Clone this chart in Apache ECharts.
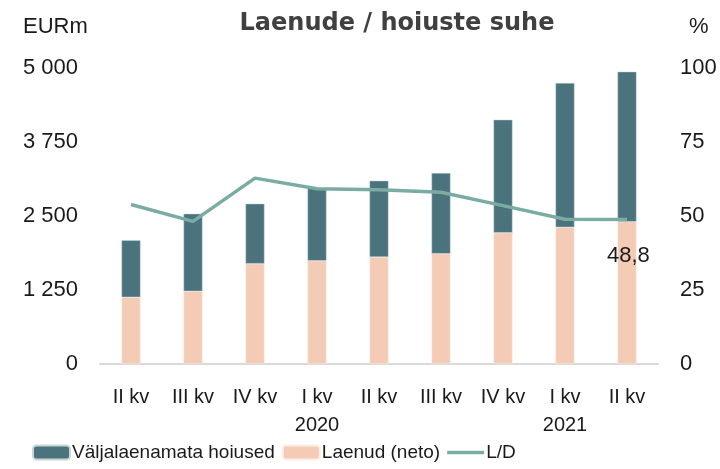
<!DOCTYPE html>
<html>
<head>
<meta charset="utf-8">
<script src="https://cdn.jsdelivr.net/npm/echarts@6/dist/echarts.min.js"></script>
<style>
    html, body { margin: 0; padding: 0; background: #fff; }
    #chart { width: 720px; height: 469px; }
</style>
</head>
<body>
<div id="chart"></div>
<script>
// kvartalid
const categories = ['II kv', 'III kv', 'IV kv', 'I kv\n2020', 'II kv', 'III kv', 'IV kv', 'I kv\n2021', 'II kv'];
// EURm
const loans = [1127, 1228, 1694, 1745, 1807, 1863, 2218, 2309, 2404];
const unlentDeposits = [963, 1311, 1014, 1223, 1289, 1363, 1909, 2438, 2534];
// %
const ldRatio = [53.9, 48.2, 62.8, 59.2, 58.9, 58.0, 53.5, 48.9, 48.8];
const leftTicks = [0, 1250, 2500, 3750, 5000];
const rightTicks = [0, 25, 50, 75, 100];

const colors = {
    dark: '#4a737e',
    peach: '#f4cbb5',
    line: '#7aaca3',
    text: '#1a1a1a',
    axis: '#d9d9d9',
};

const font = '"Liberation Sans", Arial, sans-serif';

const chart = echarts.init(document.getElementById('chart'));

const option = {
    animation: false,
    textStyle: { fontFamily: font },
    title: [
        {
            text: 'Laenude / hoiuste suhe',
            left: 392,
            textAlign: 'center',
            top: 7,
            textStyle: { fontSize: 24, fontWeight: 'bold', color: '#404040', fontFamily: '"DejaVu Sans", sans-serif' }
        },
        {
            text: 'EURm',
            left: 18,
            top: 11,
            textStyle: { fontSize: 22, fontWeight: 'normal', color: colors.text, fontFamily: font }
        },
        {
            text: '%',
            left: 684,
            top: 11,
            textStyle: { fontSize: 22, fontWeight: 'normal', color: colors.text, fontFamily: font }
        }
    ],
    legend: {
        data: [
            'Väljalaenamata hoiused',
            'Laenud (neto)',
            { name: 'L/D', icon: 'path://M0,0L37,0L37,3.5L0,3.5Z' }
        ],
        top: 443,
        left: 32,
        padding: 0,
        itemWidth: 37,
        itemHeight: 14,
        itemGap: 7,
        textStyle: { fontSize: 19, color: colors.text, fontFamily: font, padding: [0, 0, 0, -3] }
    },
    grid: {
        left: 100,
        right: 62,
        top: 68,
        bottom: 105,
    },
    xAxis: {
        type: 'category',
        data: categories,
        axisLine: { lineStyle: { color: colors.axis, width: 2 } },
        axisTick: { show: false },
        axisLabel: {
            color: colors.text,
            fontSize: 20,
            fontFamily: font,
            lineHeight: 28,
            margin: 19,
            interval: 0,
        }
    },
    yAxis: [
        {
            type: 'value',
            min: 0,
            max: 5000,
            interval: 1250,
            splitLine: { show: false },
            axisLine: { show: false },
            axisTick: { show: false },
            axisLabel: {
                color: colors.text,
                fontSize: 22,
                margin: 22,
                formatter: v => leftTicks.includes(v) ? String(v).replace(/\B(?=(\d{3})+(?!\d))/g, ' ') : ''
            }
        },
        {
            type: 'value',
            min: 0,
            max: 100,
            interval: 25,
            splitLine: { show: false },
            axisLine: { show: false },
            axisTick: { show: false },
            axisLabel: {
                color: colors.text,
                fontSize: 22,
                margin: 22,
                formatter: v => rightTicks.includes(v) ? String(v) : ''
            }
        }
    ],
    series: [
        {
            name: 'Laenud (neto)',
            type: 'bar',
            stack: 'total',
            barWidth: 19,
            data: loans,
            itemStyle: { color: colors.peach, borderColor: '#fbeee6', borderWidth: 0.5 }
        },
        {
            name: 'Väljalaenamata hoiused',
            type: 'bar',
            stack: 'total',
            barWidth: 19,
            data: unlentDeposits,
            itemStyle: { color: colors.dark, borderColor: '#c9d6d9', borderWidth: 0.5 }
        },
        {
            name: 'L/D',
            type: 'line',
            yAxisIndex: 1,
            data: ldRatio,
            symbol: 'none',
            lineStyle: { color: colors.line, width: 3.5 },
            itemStyle: { color: colors.line },
            endLabel: {
                show: true,
                offset: [-28, 36],
                color: colors.text,
                fontSize: 22,
                fontFamily: font,
                formatter: p => String(p.value).replace('.', ',')
            },
            z: 5
        }
    ]
};

chart.setOption(option);
window.addEventListener('resize', () => chart.resize());
</script>
</body>
</html>
